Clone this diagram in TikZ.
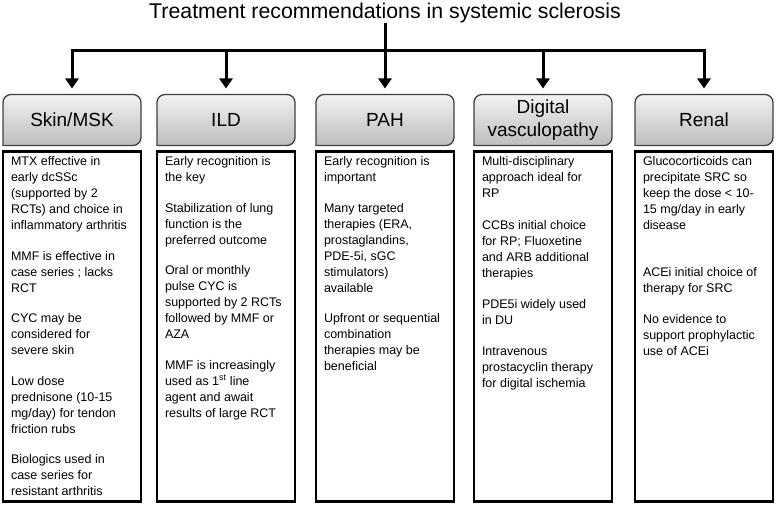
\documentclass[tikz,border=0pt]{standalone}
\usepackage{fontspec}
\setmainfont{Liberation Sans}
\usetikzlibrary{arrows.meta,backgrounds}
\definecolor{hdtop}{HTML}{F2F2F2}
\definecolor{hdbot}{HTML}{BDBDBD}
\definecolor{hdline}{HTML}{404040}
\newcommand{\recs}[1]{\parbox[t][340pt][t]{122pt}{\raggedright #1}}
\begin{document}
\begin{tikzpicture}[x=1pt,y=1pt,
			every node/.style={inner sep=0pt,outer sep=0pt}]
			\tikzstyle{tree}=[line width=3pt,shorten >=6pt,-{Triangle[width=13pt,length=10pt]}];
			\tikzstyle{head}=[minimum width=138pt,minimum height=51pt,align=center,font=\fontsize{19}{23}\selectfont];
			\tikzstyle{headbox}=[draw=hdline,line width=1.3pt,top color=hdtop,bottom color=hdbot];
			\tikzstyle{body}=[draw,line width=2.6pt,anchor=north,inner xsep=8pt,inner ysep=5pt,font=\fontsize{12.5}{16}\selectfont];
			\useasboundingbox (0,0) rectangle (776,-505);
			\node[anchor=base,font=\fontsize{21.3}{24}\selectfont] (title) at (385,-18.5) {Treatment recommendations in systemic sclerosis};
			\coordinate (bar) at (0,-51);
			\node[head] (skin) at (72,-120) {Skin/MSK};
			\node[head] (ild) at (226,-120) {ILD};
			\node[head] (pah) at (385,-120) {PAH};
			\node[head] (dig) at (543,-120) {Digital\\vasculopathy};
			\node[head] (renal) at (704,-120) {Renal};
			\node[body] (skinb) at (72,-151.5) {\recs{MTX effective in\\early dcSSc\\(supported by 2\\RCTs) and choice in\\inflammatory arthritis\\[14.5pt]
				MMF is effective in\\case series ; lacks\\RCT\\[14.5pt]
				CYC may be\\considered for\\severe skin\\[14.5pt]
				Low dose\\prednisone (10-15\\mg/day) for tendon\\friction rubs\\[14.5pt]
				Biologics used in\\case series for\\resistant arthritis}};
			\node[body] (ildb) at (226,-151.5) {\recs{Early recognition is\\the key\\[14.5pt]
				Stabilization of lung\\function is the\\preferred outcome\\[14.5pt]
				Oral or monthly\\pulse CYC is\\supported by 2 RCTs\\followed by MMF or\\AZA\\[14.5pt]
				MMF is increasingly\\used as 1\textsuperscript{st} line\\agent and await\\results of large RCT}};
			\node[body] (pahb) at (385,-151.5) {\recs{Early recognition is\\important\\[14.5pt]
				Many targeted\\therapies (ERA,\\prostaglandins,\\PDE-5i, sGC\\stimulators)\\available\\[14.5pt]
				Upfront or sequential\\combination\\therapies may be\\beneficial}};
			\node[body] (digb) at (543,-151.5) {\recs{Multi-disciplinary\\approach ideal for\\RP\\[16pt]
				CCBs initial choice\\for RP; Fluoxetine\\and ARB additional\\therapies\\[14.5pt]
				PDE5i widely used\\in DU\\[15pt]
				Intravenous\\prostacyclin therapy\\for digital ischemia}};
			\node[body] (renalb) at (704,-151.5) {\recs{Glucocorticoids can\\precipitate SRC so\\keep the dose < 10-\\15 mg/day in early\\disease\\[31pt]
				ACEi initial choice of\\therapy for SRC\\[15pt]
				No evidence to\\support prophylactic\\use of ACEi}};
			% header boxes, rounded on top only
			\begin{pgfonlayer}{background}
				\foreach \n in {skin,ild,pah,dig,renal}
					\path[headbox] (\n.south west) [rounded corners=8pt] -- (\n.north west) -- (\n.north east) -- (\n.south east) [sharp corners] -- cycle;
			\end{pgfonlayer}
			% connectors
			\draw[tree,shorten <=6pt,{Triangle[width=13pt,length=10pt]}-{Triangle[width=13pt,length=10pt]}] (skin.north) |- (bar -| renal.north) -- (renal.north);
			\foreach \n in {ild,dig}
				\draw[tree] (bar -| \n.north) -- (\n.north);
			\draw[tree] (title.south) -- (pah.north);
\end{tikzpicture}
\end{document}
